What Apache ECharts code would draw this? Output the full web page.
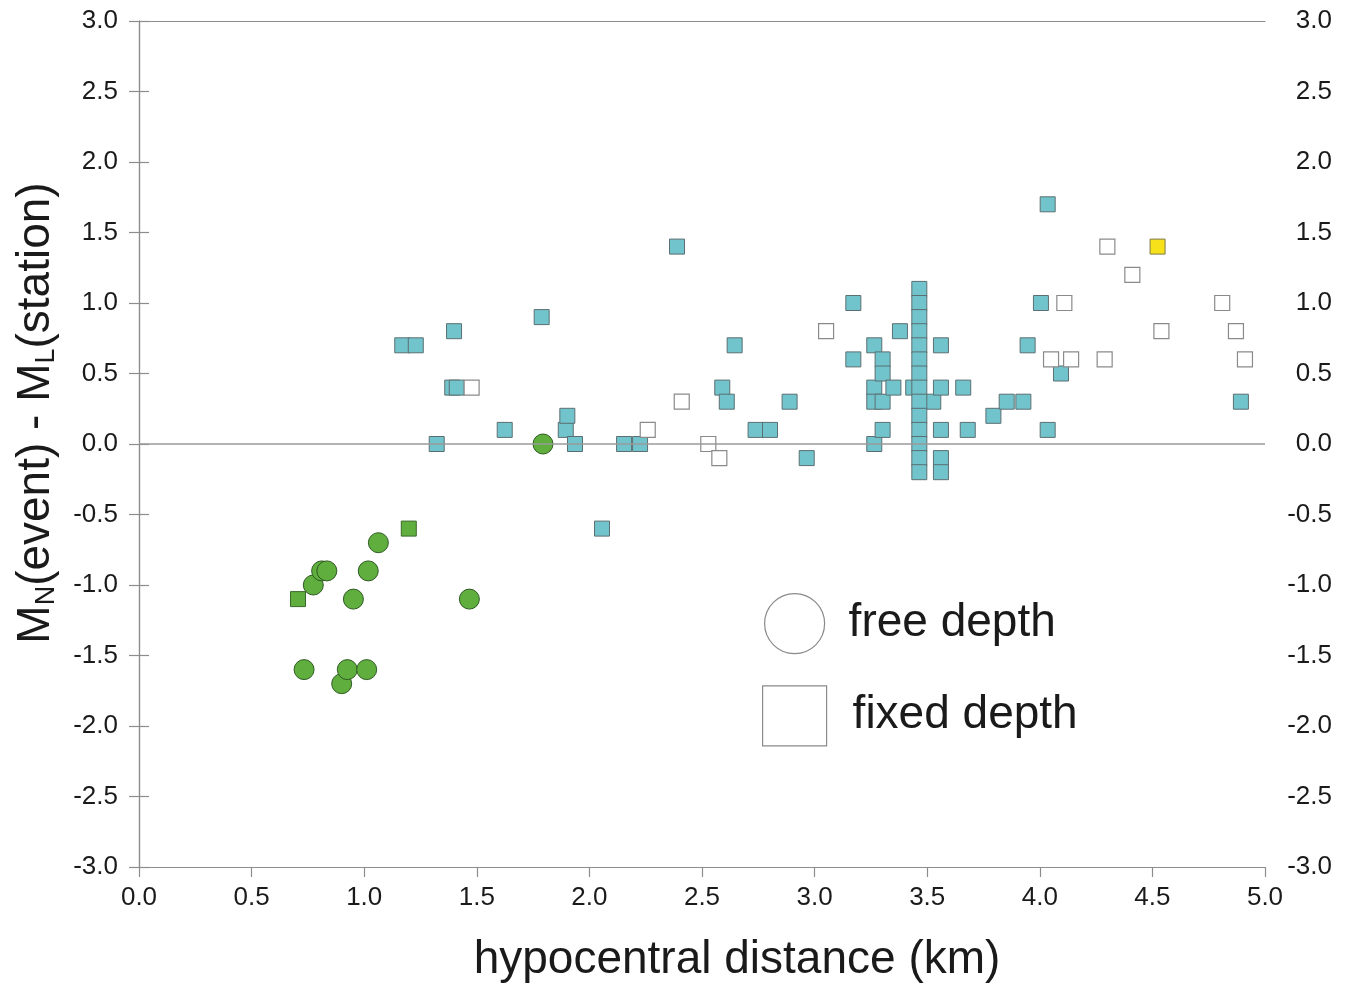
<!DOCTYPE html>
<html>
<head>
<meta charset="utf-8">
<script src="https://cdn.jsdelivr.net/npm/echarts@6/dist/echarts.min.js"></script>
<style>
html,body{margin:0;padding:0;background:#fff;}
#chart{width:1351px;height:987px;}
</style>
</head>
<body>
<div id="chart"></div>
<script>
// ---- data ----
const xTitle = 'hypocentral distance (km)';
const yTitleRich = 'M{sub|N}(event) - M{sub|L}(station)';
const legendNames = ['free depth', 'fixed depth'];

const freeGreen = [[0.733,-1.6],[0.774,-1.0],[0.811,-0.9],[0.834,-0.9],[0.900,-1.7],[0.925,-1.6],
  [0.952,-1.1],[1.011,-1.6],[1.018,-0.9],[1.063,-0.7],[1.467,-1.1],[1.794,0.0]];
const fixedGreen = [[0.706,-1.1],[1.198,-0.6]];
const fixedYellow = [[4.523,1.4]];
const fixedCyan = [[1.169,0.7],[1.229,0.7],[1.322,0.0],[1.391,0.4],[1.411,0.4],[1.399,0.8],[1.624,0.1],
  [1.788,0.9],[1.895,0.1],[1.902,0.2],[1.936,0.0],[2.056,-0.6],[2.154,0.0],[2.225,0.0],[2.389,1.4],
  [2.590,0.4],[2.610,0.3],[2.645,0.7],[2.738,0.1],[2.802,0.1],[2.889,0.3],[2.965,-0.1],[3.172,1.0],
  [3.172,0.6],[3.265,0.7],[3.265,0.4],[3.265,0.3],[3.265,0.0],[3.302,0.6],[3.302,0.5],[3.302,0.3],
  [3.302,0.1],[3.350,0.4],[3.379,0.8],[3.438,0.4],[3.527,0.3],[3.561,0.7],[3.561,0.4],[3.561,0.1],
  [3.561,-0.1],[3.561,-0.2],[3.660,0.4],[3.680,0.1],[3.794,0.2],[3.853,0.3],[3.927,0.3],[3.946,0.7],
  [4.005,1.0],[4.035,1.7],[4.035,0.1],[4.094,0.5],[4.893,0.3]];
const fixedCyanColumn = [[3.465,1.1],[3.465,1.0],[3.465,0.9],[3.465,0.8],[3.465,0.7],[3.465,0.6],
  [3.465,0.5],[3.465,0.4],[3.465,0.3],[3.465,0.2],[3.465,0.1],[3.465,0.0],[3.465,-0.1],[3.465,-0.2]];
const fixedOpen = [[1.477,0.4],[2.259,0.1],[2.410,0.3],[2.528,0.0],[2.577,-0.1],[3.051,0.8],[4.050,0.6],
  [4.109,1.0],[4.139,0.6],[4.288,0.6],[4.300,1.4],[4.411,1.2],[4.540,0.8],[4.810,1.0],[4.871,0.8],[4.911,0.6]];

// ---- chart ----
const FONT = '"Liberation Sans", Arial, Helvetica, sans-serif';
const AXIS_COLOR = '#8c8c8c';
const chart = echarts.init(document.getElementById('chart'), null, {renderer:'canvas'});

const yAxisBase = {
  type:'value', min:-3, max:3, interval:0.5,
  axisLine:{show:true, lineStyle:{color:AXIS_COLOR, width:1.2}},
  axisTick:{show:true, inside:false, length:10, lineStyle:{color:AXIS_COLOR, width:1.2}},
  splitLine:{show:false},
  axisLabel:{fontFamily:FONT, fontSize:26, color:'#1a1a1a', formatter:v=>v.toFixed(1)}
};

const squareBorder = '#5b6f72';
const option = {
  backgroundColor:'#fff',
  animation:false,
  grid:{left:139, right:86, top:21, bottom:120, containLabel:false},
  xAxis:[{
    type:'value', min:0, max:5, interval:0.5, position:'bottom',
    axisLine:{show:true, onZero:false, lineStyle:{color:AXIS_COLOR, width:1.2}},
    axisTick:{show:true, length:10, lineStyle:{color:AXIS_COLOR, width:1.2}},
    splitLine:{show:false},
    axisLabel:{fontFamily:FONT, fontSize:26, color:'#1a1a1a', margin:18, formatter:v=>v.toFixed(1)}
  },{
    type:'value', min:0, max:5, position:'top',
    axisLine:{show:true, onZero:false, lineStyle:{color:AXIS_COLOR, width:1.2}},
    axisTick:{show:false}, axisLabel:{show:false}, splitLine:{show:false}
  }],
  yAxis:[
    Object.assign({}, yAxisBase, {position:'left', axisLabel:Object.assign({}, yAxisBase.axisLabel, {margin:21})}),
    Object.assign({}, yAxisBase, {position:'right', axisLabel:Object.assign({}, yAxisBase.axisLabel, {margin:67, align:'right'})})
  ],
  legend:{
    orient:'vertical', left:757, top:588, itemWidth:64, itemHeight:60, itemGap:31,
    selectedMode:false,
    textStyle:{fontFamily:FONT, fontSize:46, color:'#1a1a1a', padding:[0,0,0,17]},
    data:[
      {name:legendNames[0], icon:'circle', itemStyle:{color:'#fff', borderColor:'#8a8a8a', borderWidth:1.2}},
      {name:legendNames[1], icon:'rect', itemStyle:{color:'#fff', borderColor:'#8a8a8a', borderWidth:1.2},
        textStyle:{fontFamily:FONT, fontSize:46, color:'#1a1a1a', padding:[12,0,0,21]}}
    ]
  },
  graphic:[
    {type:'text', x:737, y:960, z:10,
      style:{text:xTitle, fontFamily:FONT, fontSize:46, fill:'#1a1a1a', align:'center', verticalAlign:'middle'}},
    {type:'text', x:36, y:413, rotation:Math.PI/2, z:10,
      style:{text:yTitleRich, fontFamily:FONT, fontSize:46, fill:'#1a1a1a', align:'center', verticalAlign:'middle',
        rich:{sub:{fontFamily:FONT, fontSize:27, fill:'#1a1a1a', padding:[22,0,0,0]}}}}
  ],
  series:[
    {type:'line', data:[], z:1, silent:true,
      markLine:{silent:true, symbol:['none','none'], label:{show:false},
        lineStyle:{color:'#9a9a9a', width:1.5, type:'solid'}, data:[{yAxis:0}]}},
    {name:legendNames[1], type:'scatter', symbol:'rect', symbolSize:15, data:fixedCyan, z:2,
      itemStyle:{color:'#72c4cc', borderColor:squareBorder, borderWidth:1, opacity:1}},
    {name:legendNames[1], type:'scatter', symbol:'rect', symbolSize:15, data:fixedCyanColumn, z:3,
      itemStyle:{color:'#72c4cc', borderColor:squareBorder, borderWidth:1, opacity:1}},
    {name:legendNames[1], type:'scatter', symbol:'rect', symbolSize:15, data:fixedOpen, z:3,
      itemStyle:{color:'#ffffff', borderColor:'#8a8a8a', borderWidth:1.2, opacity:1}},
    {name:legendNames[1], type:'scatter', symbol:'rect', symbolSize:15, data:fixedYellow, z:3,
      itemStyle:{color:'#f6e11a', borderColor:'#7d7a4a', borderWidth:1, opacity:1}},
    {name:legendNames[1], type:'scatter', symbol:'rect', symbolSize:15, data:fixedGreen, z:3,
      itemStyle:{color:'#5fae3e', borderColor:'#3a6a2a', borderWidth:1, opacity:1}},
    {name:legendNames[0], type:'scatter', symbol:'circle', symbolSize:20, data:freeGreen, z:4,
      itemStyle:{color:'#5fae3e', borderColor:'#2f5a22', borderWidth:1, opacity:1}}
  ]
};
chart.setOption(option);
</script>
</body>
</html>
